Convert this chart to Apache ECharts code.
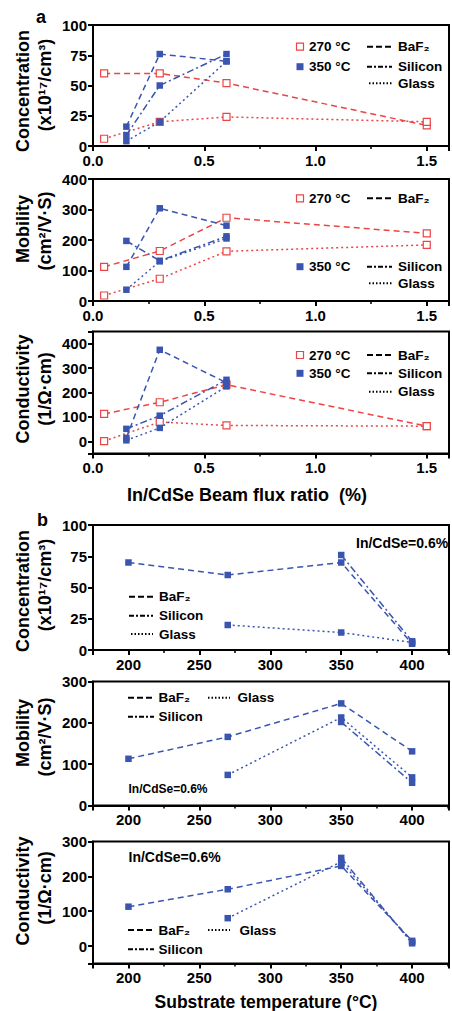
<!DOCTYPE html>
<html><head><meta charset="utf-8">
<script src="https://cdn.jsdelivr.net/npm/echarts@6/dist/echarts.min.js"></script>
<style>html,body{margin:0;padding:0;background:#fff}#c{width:452px;height:1011px}</style>
</head><body><div id="c"></div>
<script>
// ---------- tick labels ----------
const fluxTicks = [0, 0.5, 1.0, 1.5];
const tempTicks = [200, 250, 300, 350, 400];
// ---------- panel a : vs In/CdSe beam flux ratio (%) ----------
// Concentration (x10^17 /cm^3)
const concA_270_BaF2 = [[0.05,60],[0.3,60],[0.6,52],[1.5,17]];
const concA_270_Glass = [[0.05,6],[0.3,20],[0.6,24],[1.5,20]];
const concA_350_BaF2 = [[0.15,16],[0.3,76],[0.6,70]];
const concA_350_Silicon = [[0.15,9],[0.3,50],[0.6,76]];
const concA_350_Glass = [[0.15,4],[0.3,20],[0.6,70]];
// Mobility (cm^2/V.S)
const mobA_270_BaF2 = [[0.05,112],[0.3,164],[0.6,273],[1.5,222]];
const mobA_270_Glass = [[0.05,18],[0.3,73],[0.6,163],[1.5,184]];
const mobA_350_BaF2 = [[0.15,112],[0.3,304],[0.6,247]];
const mobA_350_Silicon = [[0.15,197],[0.3,132],[0.6,212]];
const mobA_350_Glass = [[0.15,37],[0.3,130],[0.6,205]];
// Conductivity (1/Ohm.cm)
const condA_270_BaF2 = [[0.05,112],[0.3,160],[0.6,232],[1.5,62]];
const condA_270_Glass = [[0.05,1],[0.3,79],[0.6,65],[1.5,62]];
const condA_350_BaF2 = [[0.15,14],[0.3,375],[0.6,240]];
const condA_350_Silicon = [[0.15,51],[0.3,105],[0.6,252]];
const condA_350_Glass = [[0.15,4],[0.3,55],[0.6,225]];
// ---------- panel b : vs substrate temperature (C), In/CdSe = 0.6% ----------
const concB_BaF2 = [[200,70],[270,60],[350,70],[400,5]];
const concB_Silicon = [[350,76],[400,7]];
const concB_Glass = [[270,20],[350,14],[400,6]];
const mobB_BaF2 = [[200,113],[270,166],[350,247],[400,131]];
const mobB_Silicon = [[350,202],[400,55]];
const mobB_Glass = [[270,74],[350,213],[400,68]];
const condB_BaF2 = [[200,113],[270,163],[350,230],[400,15]];
const condB_Silicon = [[350,253],[400,8]];
const condB_Glass = [[270,80],[350,242],[400,12]];

const FONT = '"Liberation Sans", Arial, sans-serif';
const RED = '#ec4545';
const BLUE = '#3a55b0';
const DASH = [6, 4];
const DASHDOT = [7, 3, 2, 3];
const DOT = [2, 3];

const grids = [
  {top: 25, height: 121},
  {top: 179, height: 122},
  {top: 331.5, height: 122},
  {top: 525, height: 125},
  {top: 681.5, height: 124},
  {top: 841.5, height: 122}
].map(g => Object.assign({left: 93, right: -2, show: true, borderColor: '#000', borderWidth: 2, backgroundColor: 'transparent'}, g));

function baseAxis(gi) {
  return {
    type: 'value', gridIndex: gi,
    axisLine: {show: true, onZero: false, lineStyle: {color: '#000', width: 2}},
    axisTick: {show: true, inside: false, length: 5, lineStyle: {color: '#000', width: 2}},
    splitLine: {show: false},
    axisLabel: {color: '#000', fontFamily: FONT, fontWeight: 'bold', fontSize: 15, lineHeight: 12, margin: 6}
  };
}
function xFlux(gi) {
  const a = baseAxis(gi);
  a.min = 0; a.max = 1.6; a.interval = 0.5;
  a.minorTick = {show: true, splitNumber: 2, length: 3, lineStyle: {color: '#000', width: 1.5}};
  a.axisLabel.margin = 8;
  a.axisLabel.formatter = v => fluxTicks.some(t => Math.abs(t - v) < 1e-6) ? Number(v).toFixed(1) : '';
  return a;
}
function xTemp(gi) {
  const a = baseAxis(gi);
  a.min = 175; a.max = 426; a.splitNumber = 5;
  a.minorTick = {show: true, splitNumber: 2, length: 3, lineStyle: {color: '#000', width: 1.5}};
  a.axisLabel.margin = 8;
  a.axisLabel.formatter = v => tempTicks.some(t => Math.abs(t - v) < 1e-6) ? String(Math.round(v)) : '';
  return a;
}
function yAx(gi, min, max, interval, labels) {
  const a = baseAxis(gi);
  a.min = min; a.max = max;
  if (interval) a.interval = interval; else a.splitNumber = 5;
  a.axisLabel.formatter = v => labels.some(t => Math.abs(t - v) < 1e-6) ? String(Math.round(v)) : '';
  return a;
}

const xAxes = [xFlux(0), xFlux(1), xFlux(2), xTemp(3), xTemp(4), xTemp(5)];
const yAxes = [
  yAx(0, 0, 100, 25, [0,25,50,75,100]),
  yAx(1, 0, 400, 100, [0,100,200,300,400]),
  yAx(2, -50, 450, null, [0,100,200,300,400]),
  yAx(3, 0, 100, 25, [0,25,50,75,100]),
  yAx(4, 0, 300, 100, [0,100,200,300]),
  yAx(5, -50, 300, null, [0,100,200,300])
];

function ser(data, gi, color, dash, hollow) {
  return {
    type: 'line', xAxisIndex: gi, yAxisIndex: gi, data: data,
    symbol: 'rect', symbolSize: hollow ? 7 : 6.5, showSymbol: true,
    lineStyle: {color: color, width: 1.5, type: dash},
    itemStyle: {color: hollow ? '#fff' : color, borderColor: color, borderWidth: hollow ? 1.2 : 0},
    z: hollow ? 2 : 3, animation: false, silent: true
  };
}
const series = [
  ser(concA_270_BaF2, 0, RED, DASH, true),
  ser(concA_270_Glass, 0, RED, DOT, true),
  ser(concA_350_BaF2, 0, BLUE, DASH, false),
  ser(concA_350_Silicon, 0, BLUE, DASHDOT, false),
  ser(concA_350_Glass, 0, BLUE, DOT, false),
  ser(mobA_270_BaF2, 1, RED, DASH, true),
  ser(mobA_270_Glass, 1, RED, DOT, true),
  ser(mobA_350_BaF2, 1, BLUE, DASH, false),
  ser(mobA_350_Silicon, 1, BLUE, DASHDOT, false),
  ser(mobA_350_Glass, 1, BLUE, DOT, false),
  ser(condA_270_BaF2, 2, RED, DASH, true),
  ser(condA_270_Glass, 2, RED, DOT, true),
  ser(condA_350_BaF2, 2, BLUE, DASH, false),
  ser(condA_350_Silicon, 2, BLUE, DASHDOT, false),
  ser(condA_350_Glass, 2, BLUE, DOT, false),
  ser(concB_BaF2, 3, BLUE, DASH, false),
  ser(concB_Silicon, 3, BLUE, DASHDOT, false),
  ser(concB_Glass, 3, BLUE, DOT, false),
  ser(mobB_BaF2, 4, BLUE, DASH, false),
  ser(mobB_Silicon, 4, BLUE, DASHDOT, false),
  ser(mobB_Glass, 4, BLUE, DOT, false),
  ser(condB_BaF2, 5, BLUE, DASH, false),
  ser(condB_Silicon, 5, BLUE, DASHDOT, false),
  ser(condB_Glass, 5, BLUE, DOT, false)
];

// ---------- graphic helpers ----------
const G = [];
function txt(text, x, y, size, align, rot) {
  G.push({type: 'text', x: x, y: y, rotation: rot || 0, silent: true,
    style: {text: text, font: 'bold ' + size + 'px ' + FONT, fill: '#000', lineHeight: Math.round(size * 0.9),
      align: align || 'left', verticalAlign: 'middle', textAlign: align || 'left', textVerticalAlign: 'middle'}});
}
function seg(x1, x2, y, dash) {
  G.push({type: 'line', silent: true, shape: {x1: x1, y1: y, x2: x2, y2: y},
    style: {stroke: '#000', lineWidth: 2, lineDash: dash}});
}
function sq(cx, cy, color, hollow) {
  G.push({type: 'rect', silent: true, shape: {x: cx - 3.5, y: cy - 3.5, width: 7, height: 7},
    style: {fill: hollow ? '#fff' : color, stroke: color, lineWidth: hollow ? 1.2 : 0}});
}
function tempLegend(y1, y2) {
  sq(300, y1, RED, true); txt('270 °C', 309, y1, 13.5);
  sq(300, y2, BLUE, false); txt('350 °C', 309, y2, 13.5);
}
function matLegendA(yB, yS, yG) {
  seg(367, 392, yB, [6, 3]); txt('BaF₂', 398, yB, 13.5);
  seg(367, 392, yS, [5, 2, 2, 2]); txt('Silicon', 398, yS, 13.5);
  seg(369, 392, yG, [1.5, 2]); txt('Glass', 398, yG, 13.5);
}
// panel labels
txt('a', 36, 17, 18);
txt('b', 37, 520, 18);
// y axis names
const P = Math.PI / 2;
txt('Concentration', 23, 91, 18, 'center', P); txt('(x10¹⁷/cm³)', 45, 85, 18, 'center', P);
txt('Mobility', 23, 229, 18, 'center', P); txt('(cm²/V·S)', 45, 231, 18, 'center', P);
txt('Conductivity', 23, 389, 18, 'center', P); txt('(1/Ω·cm)', 45, 389, 18, 'center', P);
txt('Concentration', 23, 591, 18, 'center', P); txt('(x10¹⁷/cm³)', 45, 585, 18, 'center', P);
txt('Mobility', 23, 733, 18, 'center', P); txt('(cm²/V·S)', 45, 737, 18, 'center', P);
txt('Conductivity', 23, 891, 18, 'center', P); txt('(1/Ω·cm)', 45, 888, 18, 'center', P);
// x titles
txt('In/CdSe Beam flux ratio  (%)', 247, 495, 18, 'center');
txt('Substrate temperature (°C)', 266, 1002, 17.5, 'center');
// legends panel a
tempLegend(46.7, 66.7); matLegendA(46.7, 66.7, 83.3);
sq(300, 198.3, RED, true); txt('270 °C', 309, 198.3, 13.5);
sq(300, 266.7, BLUE, false); txt('350 °C', 309, 266.7, 13.5);
matLegendA(198.3, 266.7, 283.3);
tempLegend(355, 373.3); matLegendA(355, 373.3, 391.7);
// panel b annotations
txt('In/CdSe=0.6%', 356, 543.3, 14);
seg(129, 153, 596.7, [6, 3]); txt('BaF₂', 159, 596.7, 13.5);
seg(129, 153, 615.7, [5, 2, 2, 2]); txt('Silicon', 159, 615.7, 13.5);
seg(131, 153, 634, [1.5, 2]); txt('Glass', 159, 634, 13.5);

seg(128, 154, 697.7, [6, 3]); txt('BaF₂', 158.5, 697.7, 13.5);
seg(208, 230, 697.7, [1.5, 2]); txt('Glass', 237.5, 697.7, 13.5);
seg(128, 154, 716.7, [5, 2, 2, 2]); txt('Silicon', 158.5, 716.7, 13.5);
txt('In/CdSe=0.6%', 128.5, 789.3, 12);

txt('In/CdSe=0.6%', 128.5, 856.7, 14);
seg(128, 154, 930, [6, 3]); txt('BaF₂', 158.5, 930, 13.5);
seg(208, 230, 930, [1.5, 2]); txt('Glass', 239.5, 930, 13.5);
seg(128, 154, 949.3, [5, 2, 2, 2]); txt('Silicon', 158.5, 949.3, 13.5);

const chart = echarts.init(document.getElementById('c'), null, {renderer: 'svg'});
chart.setOption({
  animation: false,
  backgroundColor: '#fff',
  grid: grids,
  xAxis: xAxes,
  yAxis: yAxes,
  series: series,
  graphic: G
});
</script>
</body></html>
